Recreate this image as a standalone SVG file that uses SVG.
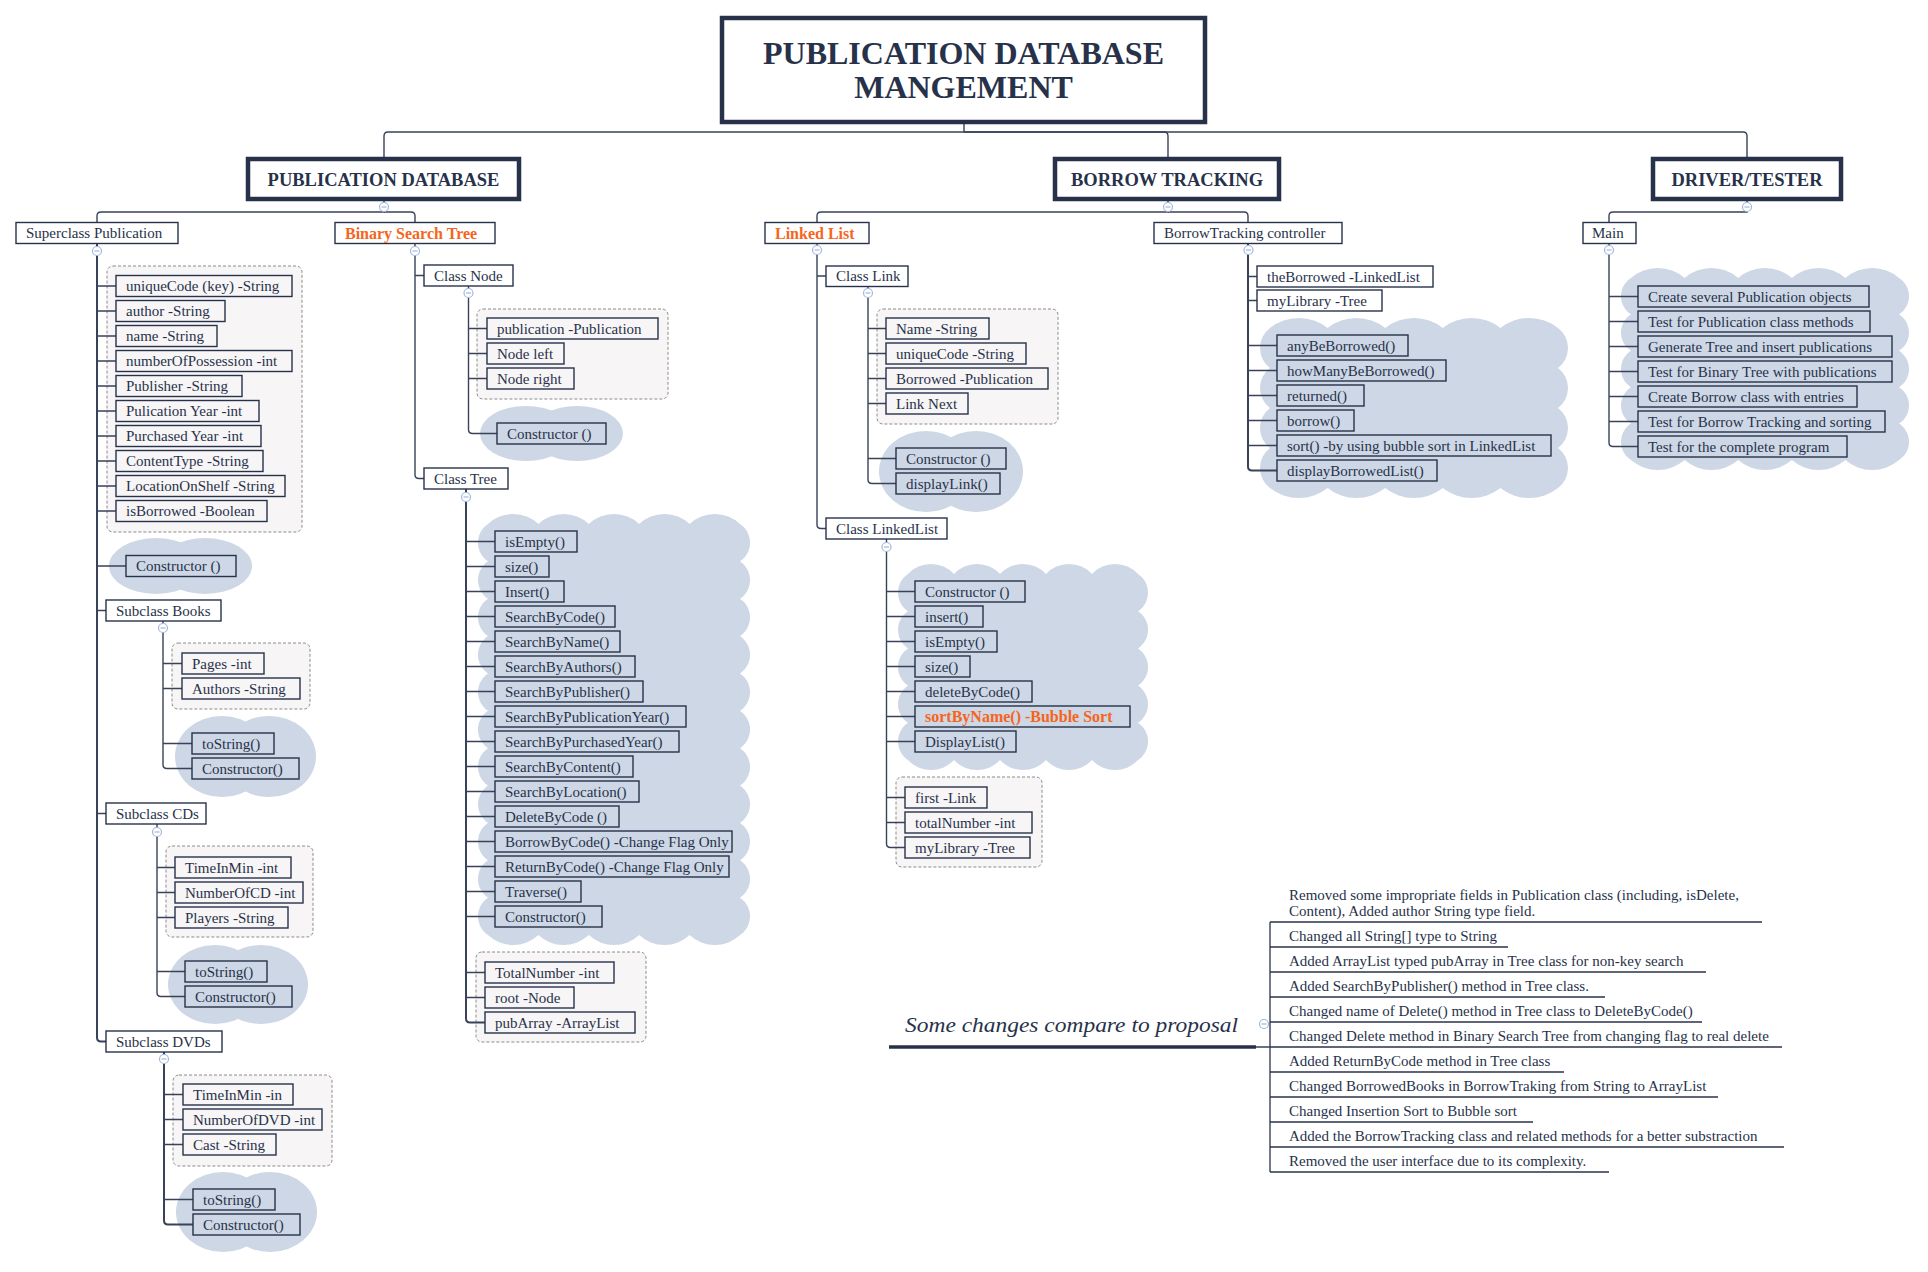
<svg xmlns="http://www.w3.org/2000/svg" xmlns:xlink="http://www.w3.org/1999/xlink" width="1928" height="1272" viewBox="0 0 1928 1272">
<style>
.t{font-family:"Liberation Serif","Times New Roman",serif;font-size:15px;fill:#27324a}
.o{font-family:"Liberation Serif","Times New Roman",serif;font-size:16px;font-weight:bold;fill:#f5651c}
.h1{font-family:"Liberation Serif","Times New Roman",serif;font-size:32px;font-weight:bold;fill:#27324a;text-anchor:middle}
.h2{font-family:"Liberation Serif","Times New Roman",serif;font-size:18.5px;font-weight:bold;fill:#27324a;text-anchor:middle}
.it{font-family:"Liberation Serif","Times New Roman",serif;font-size:22px;font-style:italic;fill:#27324a}
.b{fill:none;stroke:#27324a;stroke-width:1.4}
.k{fill:#fff;stroke:#27324a;stroke-width:4.5}
.g{fill:#f7f5f6;stroke:#8c8c8c;stroke-width:1;stroke-dasharray:3 2}
.c{fill:#cdd7e5}
.ln{fill:none;stroke:#384259;stroke-width:1.4}
.tr{stroke-width:2}
.ul{fill:none;stroke:#27324a;stroke-width:1.4}
.mc{fill:#fff;stroke:#a3b7de;stroke-width:1.2}
</style>
<defs>
<g id="minus"><circle class="mc" r="4.5"/><path d="M-2.5 0H2.5" stroke="#a3b7de" stroke-width="1.2"/></g>
</defs>
<rect width="1928" height="1272" fill="#fff"/>

<!-- boundaries and summaries behind the nodes -->
<g id="backdrops">
<rect class="g" x="107" y="266" width="195" height="266" rx="6"/>
<ellipse class="c" cx="156" cy="566" rx="47" ry="28"/><ellipse class="c" cx="205" cy="566" rx="47" ry="28"/>
<rect class="g" x="172" y="643" width="138" height="66" rx="6"/>
<ellipse class="c" cx="222" cy="756.5" rx="47" ry="40.5"/><ellipse class="c" cx="269" cy="756.5" rx="47" ry="40.5"/>
<rect class="g" x="166" y="846" width="147" height="91" rx="6"/>
<ellipse class="c" cx="215" cy="984.5" rx="47" ry="39.5"/><ellipse class="c" cx="261" cy="984.5" rx="47" ry="39.5"/>
<rect class="g" x="173" y="1075" width="159" height="91" rx="6"/>
<ellipse class="c" cx="223" cy="1212" rx="47" ry="40"/><ellipse class="c" cx="270" cy="1212" rx="47" ry="40"/>
<rect class="g" x="477" y="309" width="191" height="90" rx="6"/>
<ellipse class="c" cx="526" cy="433.5" rx="46" ry="27.5"/><ellipse class="c" cx="577" cy="433.5" rx="46" ry="27.5"/>
<path class="c" d="M488 524a36.75 36.75 0 0 1 50.4 0a36.75 36.75 0 0 1 50.4 0a36.75 36.75 0 0 1 50.4 0a36.75 36.75 0 0 1 50.4 0a36.75 36.75 0 0 1 50.4 0a22.45 22.45 0 0 1 0 37.364a22.45 22.45 0 0 1 0 37.364a22.45 22.45 0 0 1 0 37.364a22.45 22.45 0 0 1 0 37.364a22.45 22.45 0 0 1 0 37.364a22.45 22.45 0 0 1 0 37.364a22.45 22.45 0 0 1 0 37.364a22.45 22.45 0 0 1 0 37.364a22.45 22.45 0 0 1 0 37.364a22.45 22.45 0 0 1 0 37.364a22.45 22.45 0 0 1 0 37.364a36.75 36.75 0 0 1 -50.4 0a36.75 36.75 0 0 1 -50.4 0a36.75 36.75 0 0 1 -50.4 0a36.75 36.75 0 0 1 -50.4 0a36.75 36.75 0 0 1 -50.4 0a22.45 22.45 0 0 1 0 -37.364a22.45 22.45 0 0 1 0 -37.364a22.45 22.45 0 0 1 0 -37.364a22.45 22.45 0 0 1 0 -37.364a22.45 22.45 0 0 1 0 -37.364a22.45 22.45 0 0 1 0 -37.364a22.45 22.45 0 0 1 0 -37.364a22.45 22.45 0 0 1 0 -37.364a22.45 22.45 0 0 1 0 -37.364a22.45 22.45 0 0 1 0 -37.364a22.45 22.45 0 0 1 0 -37.364Z"/>
<rect class="g" x="476" y="952" width="170" height="90" rx="6"/>
<rect class="g" x="877" y="309" width="181" height="115" rx="6"/>
<ellipse class="c" cx="926" cy="471.5" rx="47" ry="40.5"/><ellipse class="c" cx="976" cy="471.5" rx="47" ry="40.5"/>
<path class="c" d="M908 574a31.45 31.45 0 0 1 46 0a31.45 31.45 0 0 1 46 0a31.45 31.45 0 0 1 46 0a31.45 31.45 0 0 1 46 0a31.45 31.45 0 0 1 46 0a22.3 22.3 0 0 1 0 37.2a22.3 22.3 0 0 1 0 37.2a22.3 22.3 0 0 1 0 37.2a22.3 22.3 0 0 1 0 37.2a22.3 22.3 0 0 1 0 37.2a31.45 31.45 0 0 1 -46 0a31.45 31.45 0 0 1 -46 0a31.45 31.45 0 0 1 -46 0a31.45 31.45 0 0 1 -46 0a31.45 31.45 0 0 1 -46 0a22.3 22.3 0 0 1 0 -37.2a22.3 22.3 0 0 1 0 -37.2a22.3 22.3 0 0 1 0 -37.2a22.3 22.3 0 0 1 0 -37.2a22.3 22.3 0 0 1 0 -37.2Z"/>
<rect class="g" x="896" y="777" width="146" height="90" rx="6"/>
<path class="c" d="M1270 328a46.47 46.47 0 0 1 57.6 0a46.47 46.47 0 0 1 57.6 0a46.47 46.47 0 0 1 57.6 0a46.47 46.47 0 0 1 57.6 0a46.47 46.47 0 0 1 57.6 0a25 25 0 0 1 0 40a25 25 0 0 1 0 40a25 25 0 0 1 0 40a25 25 0 0 1 0 40a46.47 46.47 0 0 1 -57.6 0a46.47 46.47 0 0 1 -57.6 0a46.47 46.47 0 0 1 -57.6 0a46.47 46.47 0 0 1 -57.6 0a46.47 46.47 0 0 1 -57.6 0a25 25 0 0 1 0 -40a25 25 0 0 1 0 -40a25 25 0 0 1 0 -40a25 25 0 0 1 0 -40Z"/>
<path class="c" d="M1631 278a40.91 40.91 0 0 1 53.6 0a40.91 40.91 0 0 1 53.6 0a40.91 40.91 0 0 1 53.6 0a40.91 40.91 0 0 1 53.6 0a40.91 40.91 0 0 1 53.6 0a21.56 21.56 0 0 1 0 36.4a21.56 21.56 0 0 1 0 36.4a21.56 21.56 0 0 1 0 36.4a21.56 21.56 0 0 1 0 36.4a21.56 21.56 0 0 1 0 36.4a40.91 40.91 0 0 1 -53.6 0a40.91 40.91 0 0 1 -53.6 0a40.91 40.91 0 0 1 -53.6 0a40.91 40.91 0 0 1 -53.6 0a40.91 40.91 0 0 1 -53.6 0a21.56 21.56 0 0 1 0 -36.4a21.56 21.56 0 0 1 0 -36.4a21.56 21.56 0 0 1 0 -36.4a21.56 21.56 0 0 1 0 -36.4a21.56 21.56 0 0 1 0 -36.4Z"/>
</g>

<g id="connectors" class="ln">
<path d="M964 124V132H388Q384 132 384 136V157"/>
<path d="M964 132H1164Q1168 132 1168 136V157"/>
<path d="M964 132H1743Q1747 132 1747 136V157"/>
<path d="M384 201V212H101Q97 212 97 216V222.5"/>
<path d="M384 212H411Q415 212 415 216V222.5"/>
<path d="M1168 201V212H821Q817 212 817 216V222.5"/>
<path d="M1168 212H1244Q1248 212 1248 216V222.5"/>
<path d="M1747 201V212H1613Q1609 212 1609 216V222.5"/>
<path class="tr" d="M97 243.5V1037.5Q97 1041.5 101 1041.5H106"/>
<path d="M97 286H116M97 311H116M97 336H116M97 361H116M97 386H116M97 411H116M97 436H116M97 461H116M97 486H116M97 511H116M97 566H126M97 610.5H106M97 813.5H106"/>
<path d="M163 621V764.5Q163 768.5 167 768.5H192M163 663.5H182M163 688.5H182M163 743.5H192"/>
<path d="M157 824V992.5Q157 996.5 161 996.5H185M157 867.5H175M157 892.5H175M157 917.5H175M157 971.5H185"/>
<path class="tr" d="M164 1052V1220.5Q164 1224.5 168 1224.5H193"/>
<path d="M164 1094.5H183M164 1119.5H183M164 1144.5H183M164 1199.5H193"/>
<path d="M415 243.5V474.5Q415 478.5 419 478.5H424M415 275.5H424"/>
<path d="M468.5 286V429.5Q468.5 433.5 472.5 433.5H497M468.5 328.5H487M468.5 353.5H487M468.5 378.5H487"/>
<path class="tr" d="M466 489V1018.5Q466 1022.5 470 1022.5H485"/>
<path d="M466 541.5H495M466 566.5H495M466 591.5H495M466 616.5H495M466 641.5H495M466 666.5H495M466 691.5H495M466 716.5H495M466 741.5H495M466 766.5H495M466 791.5H495M466 816.5H495M466 841.5H495M466 866.5H495M466 891.5H495M466 916.5H495M466 972.5H485M466 997.5H485"/>
<path d="M817 243.5V524.5Q817 528.5 821 528.5H826M817 276H826"/>
<path d="M868 286V479.5Q868 483.5 872 483.5H896M868 328.5H886M868 353.5H886M868 378.5H886M868 403.5H886M868 458.5H896"/>
<path d="M886.5 539V843.5Q886.5 847.5 890.5 847.5H905M886.5 591.5H915M886.5 616.5H915M886.5 641.5H915M886.5 666.5H915M886.5 691.5H915M886.5 716.5H915M886.5 741.5H915M886.5 797.5H905M886.5 822.5H905"/>
<path class="tr" d="M1248 243.5V466.5Q1248 470.5 1252 470.5H1277"/>
<path d="M1248 276.5H1257M1248 300.5H1257M1248 345.5H1277M1248 370.5H1277M1248 395.5H1277M1248 420.5H1277M1248 445.5H1277"/>
<path d="M1609 243.5V442.5Q1609 446.5 1613 446.5H1638M1609 296.5H1638M1609 321.5H1638M1609 346.5H1638M1609 371.5H1638M1609 396.5H1638M1609 421.5H1638"/>
<path d="M1270 922V1172M1256 1047H1270"/>
</g>

<g id="root">
<rect class="k" x="722" y="18" width="483" height="104"/>
<text class="h1" x="963.5" y="64">PUBLICATION DATABASE</text>
<text class="h1" x="963.5" y="98">MANGEMENT</text>
</g>

<g id="publication-database">
<rect class="k" x="248" y="159" width="271" height="40"/>
<text class="h2" x="383.5" y="185.5">PUBLICATION DATABASE</text>
<use xlink:href="#minus" x="384" y="207"/>
</g>
<g id="borrow-tracking">
<rect class="k" x="1055" y="159" width="224" height="40"/>
<text class="h2" x="1167" y="185.5">BORROW TRACKING</text>
<use xlink:href="#minus" x="1168" y="207"/>
</g>
<g id="driver-tester">
<rect class="k" x="1653" y="159" width="188" height="40"/>
<text class="h2" x="1747" y="185.5">DRIVER/TESTER</text>
<use xlink:href="#minus" x="1747" y="207"/>
</g>

<g id="superclass-publication">
<rect class="b" x="16" y="222.5" width="162" height="21"/>
<text class="t" x="26" y="238">Superclass Publication</text>
<use xlink:href="#minus" x="97" y="251"/>
</g>
<g id="publication-fields">
<rect class="b" x="116" y="275.5" width="176" height="21"/><text class="t" x="126" y="291">uniqueCode (key) -String</text>
<rect class="b" x="116" y="300.5" width="109" height="21"/><text class="t" x="126" y="316">author -String</text>
<rect class="b" x="116" y="325.5" width="101" height="21"/><text class="t" x="126" y="341">name -String</text>
<rect class="b" x="116" y="350.5" width="176" height="21"/><text class="t" x="126" y="366">numberOfPossession -int</text>
<rect class="b" x="116" y="375.5" width="126" height="21"/><text class="t" x="126" y="391">Publisher -String</text>
<rect class="b" x="116" y="400.5" width="143" height="21"/><text class="t" x="126" y="416">Pulication Year -int</text>
<rect class="b" x="116" y="425.5" width="145" height="21"/><text class="t" x="126" y="441">Purchased Year -int</text>
<rect class="b" x="116" y="450.5" width="147" height="21"/><text class="t" x="126" y="466">ContentType -String</text>
<rect class="b" x="116" y="475.5" width="169" height="21"/><text class="t" x="126" y="491">LocationOnShelf -String</text>
<rect class="b" x="116" y="500.5" width="151" height="21"/><text class="t" x="126" y="516">isBorrowed -Boolean</text>
</g>
<g id="publication-constructor">
<rect class="b" x="126" y="555.5" width="110" height="21"/><text class="t" x="136" y="571">Constructor ()</text>
</g>
<g id="subclass-books">
<rect class="b" x="106" y="600" width="115" height="21"/><text class="t" x="116" y="615.5">Subclass Books</text>
<use xlink:href="#minus" x="163" y="628"/>
<rect class="b" x="182" y="653" width="82" height="21"/><text class="t" x="192" y="668.5">Pages -int</text>
<rect class="b" x="182" y="678" width="118" height="21"/><text class="t" x="192" y="693.5">Authors -String</text>
<rect class="b" x="192" y="733" width="82" height="21"/><text class="t" x="202" y="748.5">toString()</text>
<rect class="b" x="192" y="758" width="107" height="21"/><text class="t" x="202" y="773.5">Constructor()</text>
</g>
<g id="subclass-cds">
<rect class="b" x="106" y="803" width="100" height="21"/><text class="t" x="116" y="818.5">Subclass CDs</text>
<use xlink:href="#minus" x="157" y="832"/>
<rect class="b" x="175" y="857" width="116" height="21"/><text class="t" x="185" y="872.5">TimeInMin -int</text>
<rect class="b" x="175" y="882" width="128" height="21"/><text class="t" x="185" y="897.5">NumberOfCD -int</text>
<rect class="b" x="175" y="907" width="113" height="21"/><text class="t" x="185" y="922.5">Players -String</text>
<rect class="b" x="185" y="961" width="82" height="21"/><text class="t" x="195" y="976.5">toString()</text>
<rect class="b" x="185" y="986" width="107" height="21"/><text class="t" x="195" y="1001.5">Constructor()</text>
</g>
<g id="subclass-dvds">
<rect class="b" x="106" y="1031" width="116" height="21"/><text class="t" x="116" y="1046.5">Subclass DVDs</text>
<use xlink:href="#minus" x="164" y="1059"/>
<rect class="b" x="183" y="1084" width="110" height="21"/><text class="t" x="193" y="1099.5">TimeInMin -in</text>
<rect class="b" x="183" y="1109" width="139" height="21"/><text class="t" x="193" y="1124.5">NumberOfDVD -int</text>
<rect class="b" x="183" y="1134" width="93" height="21"/><text class="t" x="193" y="1149.5">Cast -String</text>
<rect class="b" x="193" y="1189" width="82" height="21"/><text class="t" x="203" y="1204.5">toString()</text>
<rect class="b" x="193" y="1214" width="107" height="21"/><text class="t" x="203" y="1229.5">Constructor()</text>
</g>

<g id="binary-search-tree">
<rect class="b" x="335" y="222.5" width="160" height="21"/><text class="o" x="345" y="238.5">Binary Search Tree</text>
<use xlink:href="#minus" x="415" y="251"/>
</g>
<g id="class-node">
<rect class="b" x="424" y="265" width="89" height="21"/><text class="t" x="434" y="280.5">Class Node</text>
<use xlink:href="#minus" x="468.5" y="293"/>
<rect class="b" x="487" y="318" width="171" height="21"/><text class="t" x="497" y="333.5">publication -Publication</text>
<rect class="b" x="487" y="343" width="77" height="21"/><text class="t" x="497" y="358.5">Node left</text>
<rect class="b" x="487" y="368" width="87" height="21"/><text class="t" x="497" y="383.5">Node right</text>
<rect class="b" x="497" y="423" width="109" height="21"/><text class="t" x="507" y="438.5">Constructor ()</text>
</g>
<g id="class-tree">
<rect class="b" x="424" y="468" width="84" height="21"/><text class="t" x="434" y="483.5">Class Tree</text>
<use xlink:href="#minus" x="466" y="497"/>
<rect class="b" x="495" y="531" width="82" height="21"/><text class="t" x="505" y="546.5">isEmpty()</text>
<rect class="b" x="495" y="556" width="54" height="21"/><text class="t" x="505" y="571.5">size()</text>
<rect class="b" x="495" y="581" width="69" height="21"/><text class="t" x="505" y="596.5">Insert()</text>
<rect class="b" x="495" y="606" width="120" height="21"/><text class="t" x="505" y="621.5">SearchByCode()</text>
<rect class="b" x="495" y="631" width="125" height="21"/><text class="t" x="505" y="646.5">SearchByName()</text>
<rect class="b" x="495" y="656" width="140" height="21"/><text class="t" x="505" y="671.5">SearchByAuthors()</text>
<rect class="b" x="495" y="681" width="148" height="21"/><text class="t" x="505" y="696.5">SearchByPublisher()</text>
<rect class="b" x="495" y="706" width="191" height="21"/><text class="t" x="505" y="721.5">SearchByPublicationYear()</text>
<rect class="b" x="495" y="731" width="184" height="21"/><text class="t" x="505" y="746.5">SearchByPurchasedYear()</text>
<rect class="b" x="495" y="756" width="138" height="21"/><text class="t" x="505" y="771.5">SearchByContent()</text>
<rect class="b" x="495" y="781" width="144" height="21"/><text class="t" x="505" y="796.5">SearchByLocation()</text>
<rect class="b" x="495" y="806" width="124" height="21"/><text class="t" x="505" y="821.5">DeleteByCode ()</text>
<rect class="b" x="495" y="831" width="237" height="21"/><text class="t" x="505" y="846.5">BorrowByCode() -Change Flag Only</text>
<rect class="b" x="495" y="856" width="234" height="21"/><text class="t" x="505" y="871.5">ReturnByCode() -Change Flag Only</text>
<rect class="b" x="495" y="881" width="86" height="21"/><text class="t" x="505" y="896.5">Traverse()</text>
<rect class="b" x="495" y="906" width="107" height="21"/><text class="t" x="505" y="921.5">Constructor()</text>
<rect class="b" x="485" y="962" width="129" height="21"/><text class="t" x="495" y="977.5">TotalNumber -int</text>
<rect class="b" x="485" y="987" width="89" height="21"/><text class="t" x="495" y="1002.5">root -Node</text>
<rect class="b" x="485" y="1012" width="150" height="21"/><text class="t" x="495" y="1027.5">pubArray -ArrayList</text>
</g>

<g id="linked-list">
<rect class="b" x="765" y="222.5" width="104" height="21"/><text class="o" x="775" y="238.5">Linked List</text>
<use xlink:href="#minus" x="817" y="250"/>
</g>
<g id="class-link">
<rect class="b" x="826" y="266" width="82" height="20.5"/><text class="t" x="836" y="281">Class Link</text>
<use xlink:href="#minus" x="868" y="293"/>
<rect class="b" x="886" y="318" width="103" height="21"/><text class="t" x="896" y="333.5">Name -String</text>
<rect class="b" x="886" y="343" width="140" height="21"/><text class="t" x="896" y="358.5">uniqueCode -String</text>
<rect class="b" x="886" y="368" width="162" height="21"/><text class="t" x="896" y="383.5">Borrowed -Publication</text>
<rect class="b" x="886" y="393" width="82" height="21"/><text class="t" x="896" y="408.5">Link Next</text>
<rect class="b" x="896" y="448" width="110" height="21"/><text class="t" x="906" y="463.5">Constructor ()</text>
<rect class="b" x="896" y="473" width="104" height="21"/><text class="t" x="906" y="488.5">displayLink()</text>
</g>
<g id="class-linkedlist">
<rect class="b" x="826" y="518" width="121" height="21"/><text class="t" x="836" y="533.5">Class LinkedList</text>
<use xlink:href="#minus" x="886.5" y="547"/>
<rect class="b" x="915" y="581" width="110" height="21"/><text class="t" x="925" y="596.5">Constructor ()</text>
<rect class="b" x="915" y="606" width="68" height="21"/><text class="t" x="925" y="621.5">insert()</text>
<rect class="b" x="915" y="631" width="82" height="21"/><text class="t" x="925" y="646.5">isEmpty()</text>
<rect class="b" x="915" y="656" width="55" height="21"/><text class="t" x="925" y="671.5">size()</text>
<rect class="b" x="915" y="681" width="117" height="21"/><text class="t" x="925" y="696.5">deleteByCode()</text>
<rect class="b" x="915" y="706" width="215" height="21"/><text class="o" x="925" y="722">sortByName() -Bubble Sort</text>
<rect class="b" x="915" y="731" width="101" height="21"/><text class="t" x="925" y="746.5">DisplayList()</text>
<rect class="b" x="905" y="787" width="82" height="21"/><text class="t" x="915" y="802.5">first -Link</text>
<rect class="b" x="905" y="812" width="127" height="21"/><text class="t" x="915" y="827.5">totalNumber -int</text>
<rect class="b" x="905" y="837" width="125" height="21"/><text class="t" x="915" y="852.5">myLibrary -Tree</text>
</g>

<g id="borrowtracking-controller">
<rect class="b" x="1154" y="222.5" width="188" height="21"/><text class="t" x="1164" y="238">BorrowTracking controller</text>
<use xlink:href="#minus" x="1248.5" y="250"/>
<rect class="b" x="1257" y="266" width="176" height="21"/><text class="t" x="1267" y="281.5">theBorrowed -LinkedList</text>
<rect class="b" x="1257" y="290" width="125" height="21"/><text class="t" x="1267" y="305.5">myLibrary -Tree</text>
<rect class="b" x="1277" y="335" width="131" height="21"/><text class="t" x="1287" y="350.5">anyBeBorrowed()</text>
<rect class="b" x="1277" y="360" width="169" height="21"/><text class="t" x="1287" y="375.5">howManyBeBorrowed()</text>
<rect class="b" x="1277" y="385" width="87" height="21"/><text class="t" x="1287" y="400.5">returned()</text>
<rect class="b" x="1277" y="410" width="77" height="21"/><text class="t" x="1287" y="425.5">borrow()</text>
<rect class="b" x="1277" y="435" width="274" height="21"/><text class="t" x="1287" y="450.5">sort() -by using bubble sort in LinkedList</text>
<rect class="b" x="1277" y="460" width="160" height="21"/><text class="t" x="1287" y="475.5">displayBorrowedList()</text>
</g>

<g id="main">
<rect class="b" x="1583" y="222.5" width="53" height="21"/><text class="t" x="1592" y="238">Main</text>
<use xlink:href="#minus" x="1609" y="250"/>
<rect class="b" x="1638" y="286" width="231" height="21"/><text class="t" x="1648" y="301.5">Create several Publication objects</text>
<rect class="b" x="1638" y="311" width="232" height="21"/><text class="t" x="1648" y="326.5">Test for Publication class methods</text>
<rect class="b" x="1638" y="336" width="254" height="21"/><text class="t" x="1648" y="351.5">Generate Tree and insert publications</text>
<rect class="b" x="1638" y="361" width="254" height="21"/><text class="t" x="1648" y="376.5">Test for Binary Tree with publications</text>
<rect class="b" x="1638" y="386" width="219" height="21"/><text class="t" x="1648" y="401.5">Create Borrow class with entries</text>
<rect class="b" x="1638" y="411" width="247" height="21"/><text class="t" x="1648" y="426.5">Test for Borrow Tracking and sorting</text>
<rect class="b" x="1638" y="436" width="209" height="21"/><text class="t" x="1648" y="451.5">Test for the complete program</text>
</g>

<g id="changes">
<text class="it" x="905" y="1032" textLength="333" lengthAdjust="spacingAndGlyphs">Some changes compare to proposal</text>
<path d="M889 1047H1256" fill="none" stroke="#27324a" stroke-width="3.5"/>
<use xlink:href="#minus" x="1264" y="1024"/>
</g>
<g id="change-items">
<text class="t" x="1289" y="900">Removed some impropriate fields in Publication class (including, isDelete,</text>
<text class="t" x="1289" y="915.5">Content), Added author String type field.</text>
<path class="ul" d="M1270 922H1762"/>
<text class="t" x="1289" y="940.5">Changed all String[] type to String</text>
<path class="ul" d="M1270 947H1508"/>
<text class="t" x="1289" y="965.5">Added ArrayList typed pubArray in Tree class for non-key search</text>
<path class="ul" d="M1270 972H1706"/>
<text class="t" x="1289" y="990.5">Added SearchByPublisher() method in Tree class.</text>
<path class="ul" d="M1270 997H1605"/>
<text class="t" x="1289" y="1015.5">Changed name of Delete() method in Tree class to DeleteByCode()</text>
<path class="ul" d="M1270 1022H1702"/>
<text class="t" x="1289" y="1040.5">Changed Delete method in Binary Search Tree from changing flag to real delete</text>
<path class="ul" d="M1270 1047H1782"/>
<text class="t" x="1289" y="1065.5">Added ReturnByCode method in Tree class</text>
<path class="ul" d="M1270 1072H1564"/>
<text class="t" x="1289" y="1090.5">Changed BorrowedBooks in BorrowTraking from String to ArrayList</text>
<path class="ul" d="M1270 1097H1718"/>
<text class="t" x="1289" y="1115.5">Changed Insertion Sort to Bubble sort</text>
<path class="ul" d="M1270 1122H1533"/>
<text class="t" x="1289" y="1140.5">Added the BorrowTracking class and related methods for a better substraction</text>
<path class="ul" d="M1270 1147H1784"/>
<text class="t" x="1289" y="1165.5">Removed the user interface due to its complexity.</text>
<path class="ul" d="M1270 1172H1609"/>
</g>
</svg>
